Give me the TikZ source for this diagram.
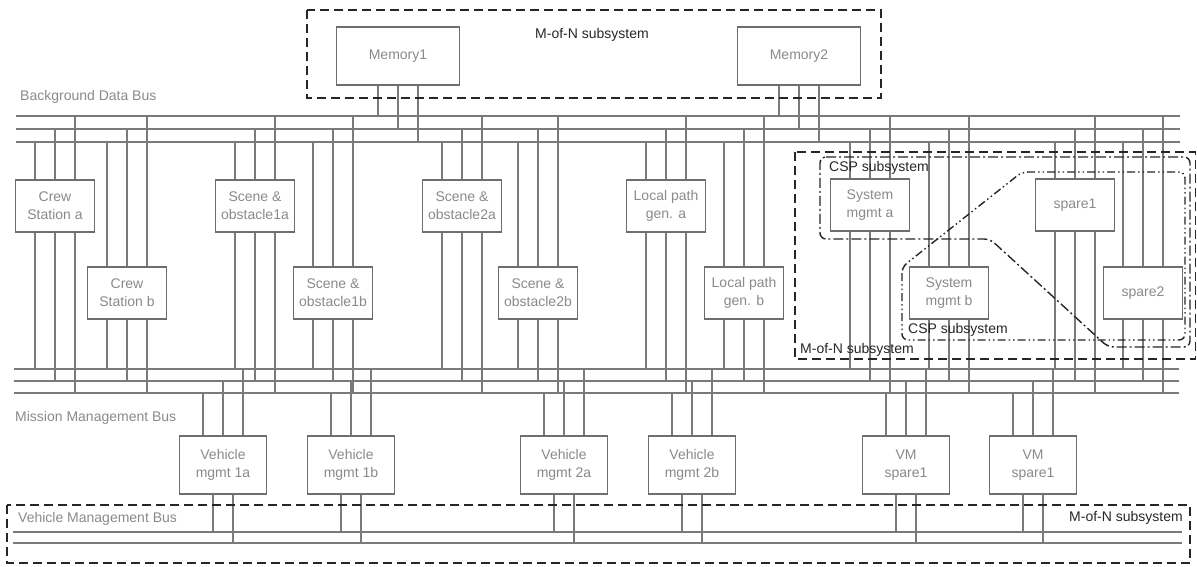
\documentclass[tikz,border=0pt]{standalone}
\usepackage{fontspec}
\setmainfont{Liberation Sans}
\definecolor{boxgray}{HTML}{6E6E6E}
\definecolor{textgray}{HTML}{8A8A8A}
\definecolor{busgray}{HTML}{7A7A7A}
\definecolor{dark}{HTML}{262626}
\tikzset{
  unit/.style={draw=boxgray, fill=white, line width=1.5pt, minimum width=79pt, minimum height=52pt,
    align=center, text=textgray, font=\fontsize{14}{18}\selectfont, inner sep=0pt},
  memunit/.style={unit, minimum width=123pt, minimum height=58pt},
  vehunit/.style={unit, minimum width=87pt, minimum height=58pt},
  bus/.style={draw=busgray, line width=1.5pt},
  link/.style={draw=busgray, line width=1.5pt},
  mofn/.style={draw=dark, line width=1.5pt, dash pattern=on 9pt off 5pt},
  cspa/.style={draw=dark, line width=1.4pt, dash pattern=on 10pt off 3pt on 2pt off 3pt, rounded corners=6pt},
  cspb/.style={draw=dark, line width=1.4pt, dash pattern=on 8pt off 3pt on 1.5pt off 3pt on 1.5pt off 3pt, rounded corners=6pt},
  buslab/.style={text=textgray, font=\fontsize{14}{18}\selectfont, inner sep=0pt, anchor=west},
  sublab/.style={text=dark, font=\fontsize{14}{18}\selectfont, inner sep=0pt},
}
\begin{document}
\begin{tikzpicture}[x=1pt,y=-1pt]
\useasboundingbox (0,0) rectangle (1197,567);

% bus coordinates
\coordinate (bd1) at (16,116);  \coordinate (bd1e) at (1180,116);
\coordinate (bd2) at (16,129);  \coordinate (bd2e) at (1180,129);
\coordinate (bd3) at (16,142);  \coordinate (bd3e) at (1180,142);
\coordinate (mm1) at (14,369);  \coordinate (mm1e) at (1179,369);
\coordinate (mm2) at (14,381);  \coordinate (mm2e) at (1179,381);
\coordinate (mm3) at (14,393);  \coordinate (mm3e) at (1179,393);
\coordinate (vb1) at (13,532);  \coordinate (vb1e) at (1182,532);
\coordinate (vb2) at (13,543);  \coordinate (vb2e) at (1182,543);

% memory units
\node[memunit] (mem1) at (398,56) {Memory1};
\node[memunit] (mem2) at (799,56) {Memory2};

% upper row units
\node[unit] (csa)  at (55,206)   {Crew\\Station a};
\node[unit] (so1a) at (255,206)  {Scene \&\\obstacle1a};
\node[unit] (so2a) at (462,206)  {Scene \&\\obstacle2a};
\node[unit] (lpa)  at (666,206)  {Local path\\gen. a};
\node[unit] (sma)  at (870,205)  {System\\mgmt a};
\node[unit] (sp1)  at (1075,205) {spare1};

\node[unit] (csb)  at (127,293)  {Crew\\Station b};
\node[unit] (so1b) at (333,293)  {Scene \&\\obstacle1b};
\node[unit] (so2b) at (538,293)  {Scene \&\\obstacle2b};
\node[unit] (lpb)  at (744,293)  {Local path\\gen. b};
\node[unit] (smb)  at (949,293)  {System\\mgmt b};
\node[unit] (sp2)  at (1143,293) {spare2};

% vehicle units
\node[vehunit] (vm1a) at (223,465)  {Vehicle\\mgmt 1a};
\node[vehunit] (vm1b) at (351,465)  {Vehicle\\mgmt 1b};
\node[vehunit] (vm2a) at (564,465)  {Vehicle\\mgmt 2a};
\node[vehunit] (vm2b) at (692,465)  {Vehicle\\mgmt 2b};
\node[vehunit] (vsa)  at (906,465)  {VM\\spare1};
\node[vehunit] (vsb)  at (1033,465) {VM\\spare1};

% buses
\foreach \b in {bd1,bd2,bd3,mm1,mm2,mm3,vb1,vb2} {
  \draw[bus] (\b) -- (\b e);
}

% memory connections
\foreach \n in {mem1,mem2} {
  \coordinate (\n-a) at ([xshift=-20pt]\n.south);
  \coordinate (\n-b) at (\n.south);
  \coordinate (\n-c) at ([xshift=20pt]\n.south);
  \draw[link] (\n-a) -- (\n-a |- bd1);
  \draw[link] (\n-b) -- (\n-b |- bd2);
  \draw[link] (\n-c) -- (\n-c |- bd3);
}

% upper row connections
\foreach \n in {csa,so1a,so2a,lpa,sma,sp1,csb,so1b,so2b,lpb,smb,sp2} {
  \coordinate (\n-ua) at ([xshift=-20pt]\n.north);
  \coordinate (\n-ub) at (\n.north);
  \coordinate (\n-uc) at ([xshift=20pt]\n.north);
  \coordinate (\n-da) at ([xshift=-20pt]\n.south);
  \coordinate (\n-db) at (\n.south);
  \coordinate (\n-dc) at ([xshift=20pt]\n.south);
  \draw[link] (\n-ua) -- (\n-ua |- bd3);
  \draw[link] (\n-ub) -- (\n-ub |- bd2);
  \draw[link] (\n-uc) -- (\n-uc |- bd1);
  \draw[link] (\n-da) -- (\n-da |- mm1);
  \draw[link] (\n-db) -- (\n-db |- mm2);
  \draw[link] (\n-dc) -- (\n-dc |- mm3);
}

% vehicle connections
\foreach \n in {vm1a,vm1b,vm2a,vm2b,vsa,vsb} {
  \coordinate (\n-ua) at ([xshift=-20pt]\n.north);
  \coordinate (\n-ub) at (\n.north);
  \coordinate (\n-uc) at ([xshift=20pt]\n.north);
  \coordinate (\n-da) at ([xshift=-10pt]\n.south);
  \coordinate (\n-db) at ([xshift=10pt]\n.south);
  \draw[link] (\n-ua) -- (\n-ua |- mm3);
  \draw[link] (\n-ub) -- (\n-ub |- mm2);
  \draw[link] (\n-uc) -- (\n-uc |- mm1);
  \draw[link] (\n-da) -- (\n-da |- vb1);
  \draw[link] (\n-db) -- (\n-db |- vb2);
}

% subsystem outlines
\draw[mofn] (307,10) rectangle (881,98);
\draw[mofn] (795,152) rectangle (1195.5,359);
\draw[mofn] (7,505) rectangle (1190,563);
\draw[cspa] (820,157) -- (1190,157) -- (1190,347) -- (1108,347) -- (990,239) -- (820,239) -- cycle;
\draw[cspb] (902,267) -- (902,340) -- (1185,340) -- (1185,172) -- (1022,172) -- cycle;

% labels
\node[buslab] (lbd) at (20,97)  {Background Data Bus};
\node[buslab] (lmm) at (15,418) {Mission Management Bus};
\node[buslab] (lvm) at (18,519) {Vehicle Management Bus};
\node[sublab] (ltop) at (592,35) {M-of-N subsystem};
\node[sublab, anchor=west] (lright) at (800,350) {M-of-N subsystem};
\node[sublab, anchor=east] (lbot) at (1183,518) {M-of-N subsystem};
\node[sublab, anchor=west] (lcspa) at (829,168) {CSP subsystem};
\node[sublab, anchor=west] (lcspb) at (908,330) {CSP subsystem};
\end{tikzpicture}
\end{document}
